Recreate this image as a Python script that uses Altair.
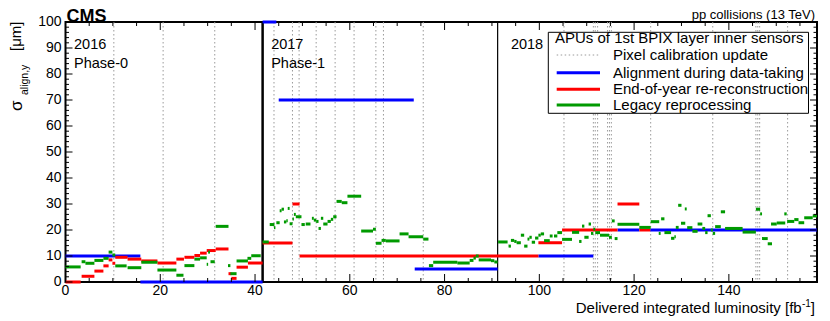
import altair as alt
import pandas as pd

FONT = "Liberation Sans"
X_MAX = 158.6

# ---------------- data (integrated luminosity in fb^-1, sigma in um) ----------------
blue_x0 = [0.0, 15.8, 41.6, 45.0, 73.7, 99.8, 116.5, 123.4]
blue_x1 = [15.8, 41.6, 44.5, 73.5, 91.2, 111.4, 121.1, 158.6]
blue_y = [10.0, 0.0, 100.0, 70.0, 5.0, 10.0, 20.0, 20.0]

red_x0 = [0.0, 3.4, 6.1, 8.0, 9.1, 9.9, 10.5, 13.1, 16.0, 19.4, 23.4, 25.1, 27.2, 28.4,
          29.8, 31.7, 34.4, 35.0, 36.1, 38.5, 41.6, 47.9, 49.4, 99.8, 104.8, 116.5, 121.1]
red_x1 = [3.2, 6.1, 8.0, 9.1, 9.9, 10.5, 13.1, 16.0, 19.4, 23.4, 25.0, 27.2, 28.4, 29.8,
          31.7, 34.4, 35.0, 36.1, 38.5, 41.6, 47.9, 49.4, 99.8, 104.8, 116.5, 121.1, 123.4]
red_y = [0.0, 2.2, 4.2, 6.2, 8.5, 7.2, 9.5, 8.8, 8.1, 7.3, 8.8, 9.5, 10.2, 11.1,
         12.1, 12.7, 3.2, 1.4, 5.7, 7.3, 15.0, 30.0, 10.0, 15.1, 20.0, 30.0, 20.0]

green_x0 = [
    # 2016
    0.0, 3.4, 4.2, 6.1, 8.0, 9.1, 9.9, 10.5, 13.1, 16.0, 19.4, 23.4, 25.1, 27.2, 28.4,
    29.8, 30.1, 30.6, 31.7, 34.3, 34.8, 36.1, 38.4, 39.2,
    # 2017
    41.6, 43.1, 44.0, 44.5, 45.2, 45.6, 46.1, 46.6, 46.9, 47.3, 47.9, 48.2, 48.6, 49.8,
    50.7, 52.0, 52.4, 52.9, 53.4, 53.9, 54.4, 55.3, 56.0, 56.5, 57.2, 58.3, 59.5, 62.4,
    64.9, 65.5, 66.7, 67.6, 70.5, 72.4, 75.5, 76.7, 77.6, 82.7, 85.3, 86.1, 86.6, 87.2,
    89.8, 90.5,
    # 2018
    91.3, 93.5, 94.0, 94.7, 95.2, 96.1, 96.8, 97.5, 97.9, 98.4, 99.1, 99.8, 100.3, 101.0,
    102.2, 103.1, 103.8, 104.8, 106.9, 108.4, 109.0, 109.5, 110.4, 110.9, 111.4, 111.8,
    112.8, 114.7, 115.3, 115.9, 116.5, 121.1, 123.5, 125.2, 125.7, 126.4, 127.8, 128.5,
    128.8, 129.3, 129.9, 130.7, 131.2, 132.3, 133.4, 134.4, 135.0, 135.5, 136.2, 136.6,
    137.1, 138.3, 139.2, 142.9, 145.7, 146.6, 147.0, 148.2, 148.9, 150.1, 151.7, 152.3,
    153.8, 154.7, 155.9, 157.7,
]
green_x1 = [
    3.2, 4.2, 6.1, 8.0, 9.1, 9.9, 10.5, 12.9, 16.0, 19.4, 23.4, 24.9, 27.2, 28.4, 29.8,
    30.1, 30.5, 31.5, 34.4, 34.8, 36.1, 38.5, 39.2, 41.2,
    42.9, 44.1, 44.3, 45.2, 45.6, 46.1, 46.6, 46.9, 47.3, 47.9, 48.2, 48.6, 49.8, 50.5,
    51.7, 52.4, 52.9, 53.4, 53.9, 54.4, 55.3, 56.0, 56.5, 57.2, 58.3, 59.5, 62.4, 64.9,
    65.5, 66.7, 67.6, 70.5, 72.4, 75.5, 76.6, 77.6, 82.7, 85.3, 86.1, 86.6, 87.2, 89.8,
    90.5, 91.2,
    93.3, 94.0, 94.7, 95.2, 96.1, 96.8, 97.5, 97.9, 98.4, 99.1, 99.8, 100.3, 101.0, 102.2,
    102.8, 103.8, 104.8, 106.9, 108.4, 108.9, 109.5, 110.4, 110.9, 111.4, 111.8, 112.8,
    114.7, 115.3, 115.9, 116.5, 121.1, 123.5, 125.3, 125.6, 126.4, 127.8, 128.5, 128.8,
    129.4, 130.0, 130.8, 131.1, 132.3, 133.4, 134.4, 135.0, 135.5, 136.2, 136.6, 137.1,
    138.3, 139.2, 142.9, 145.7, 146.6, 147.0, 148.2, 149.1, 150.1, 151.9, 152.2, 153.8,
    154.7, 155.9, 157.7, 158.6,
]
green_y = [
    5.8, 7.8, 7.2, 8.3, 9.1, 11.5, 10.4, 6.2, 5.5, 7.6, 4.6, 2.6, 6.3, 8.8, 9.3,
    6.8, 11.5, 7.8, 21.4, 6.3, 3.2, 8.1, 9.1, 10.1,
    15.4, 22.1, 20.9, 22.8, 27.4, 28.0, 23.1, 23.6, 28.3, 22.4, 24.2, 26.0, 25.1, 22.1,
    22.3, 24.5, 23.8, 23.3, 20.6, 24.5, 22.3, 23.3, 24.1, 25.1, 31.0, 30.5, 33.0, 19.6,
    20.3, 14.9, 16.0, 15.8, 18.5, 17.4, 16.5, 6.3, 7.6, 7.3, 8.3, 9.2, 10.0, 8.5,
    8.2, 7.7,
    15.4, 13.8, 16.0, 15.6, 15.1, 18.0, 13.8, 16.5, 17.2, 15.3, 16.9, 18.0, 18.5, 15.9,
    17.7, 17.7, 19.0, 16.4, 19.1, 15.6, 21.5, 17.2, 22.3, 18.7, 20.3, 19.0,
    18.0, 17.2, 23.5, 16.7, 22.2, 21.0, 23.2, 18.7, 24.3, 19.0, 16.8, 17.4,
    21.0, 29.5, 22.6, 28.1, 20.9, 19.5, 22.3, 20.6, 19.0, 25.5, 20.0, 18.7,
    21.3, 27.0, 20.6, 19.2, 28.0, 26.2, 16.7, 14.7, 22.3, 22.7, 26.2, 23.3,
    24.0, 22.8, 24.7, 25.4,
]

calib_x = [10.2, 20.6, 31.5, 44.0, 47.9, 49.3, 52.9, 56.9, 60.9, 65.5, 67.1, 75.5,
           105.2, 111.4, 111.8, 112.3, 114.4, 114.8, 115.2, 123.5, 136.6, 145.7,
           146.1, 146.5, 152.4]

year_bound_x = [41.6, 91.2]
year_bound_w = [2.5, 1.2]

year_text = ["2016", "Phase-0", "2017", "Phase-1", "2018"]
year_text_x = [1.8, 1.8, 43.4, 43.4, 94.0]
year_text_y = [91.0, 84.0, 91.0, 84.0, 91.0]

x_label_vals = [0, 20, 40, 60, 80, 100, 120, 140]
y_label_vals = [0, 10, 20, 30, 40, 50, 60, 70, 80, 90, 100]
x_minor = [v for v in range(0, 160, 5) if v % 20 != 0]
x_major = [v for v in range(0, 160, 20)]
y_minor = [v for v in range(0, 101, 2) if v % 10 != 0]
y_major = [v for v in range(0, 101, 10)]

legend_labels = ["Pixel calibration update", "Alignment during data-taking",
                 "End-of-year re-reconstruction", "Legacy reprocessing"]

BLUE = "#0000ff"
RED = "#ff0000"
GREEN = "#009a00"
GRAY = "#9a9a9a"

# ---------------- geometry ----------------
W = 751.5
H = 260

xs = alt.Scale(domain=[0, X_MAX], nice=False, zero=False)
ys = alt.Scale(domain=[0, 100], nice=False, zero=False)

one = pd.DataFrame({"a": [0]})


def seg_layer(x0, x1, y, color):
    df = pd.DataFrame({"x0": x0, "x1": x1, "y": y})
    return alt.Chart(df).mark_rule(color=color, strokeWidth=3, strokeCap="butt").encode(
        x=alt.X("x0:Q", scale=xs, axis=None),
        x2="x1:Q",
        y=alt.Y("y:Q", scale=ys, axis=None),
    )


layers = []

# calibration lines
layers.append(
    alt.Chart(pd.DataFrame({"x": calib_x})).mark_rule(
        color=GRAY, strokeWidth=1, strokeDash=[1.5, 2.5]
    ).encode(x=alt.X("x:Q", scale=xs, axis=None))
)
# year boundaries
layers.append(
    alt.Chart(pd.DataFrame({"x": year_bound_x, "w": year_bound_w})).mark_rule(color="black").encode(
        x=alt.X("x:Q", scale=xs, axis=None),
        strokeWidth=alt.StrokeWidth("w:Q", scale=None),
    )
)
# data segments
layers.append(seg_layer(blue_x0, blue_x1, blue_y, BLUE))
layers.append(seg_layer(red_x0, red_x1, red_y, RED))
layers.append(seg_layer(green_x0, green_x1, green_y, GREEN))

# year annotations
layers.append(
    alt.Chart(pd.DataFrame({"x": year_text_x, "y": year_text_y, "t": year_text})).mark_text(
        align="left", baseline="middle", font=FONT, fontSize=14.5, color="black"
    ).encode(x=alt.X("x:Q", scale=xs, axis=None), y=alt.Y("y:Q", scale=ys, axis=None), text="t:N")
)

# tick labels
layers.append(
    alt.Chart(pd.DataFrame({"v": x_label_vals})).mark_text(
        align="center", baseline="top", font=FONT, fontSize=14, color="black"
    ).encode(x=alt.X("v:Q", scale=xs, axis=None), y=alt.value(262), text="v:Q")
)
layers.append(
    alt.Chart(pd.DataFrame({"v": y_label_vals})).mark_text(
        align="right", baseline="middle", font=FONT, fontSize=14, color="black"
    ).encode(y=alt.Y("v:Q", scale=ys, axis=None), x=alt.value(-4), text="v:Q")
)


# ticks (ROOT style, inside, on all four sides)
def xticks(vals, length):
    d = pd.DataFrame({"v": vals})
    out = []
    for y0, y1 in [(H, H - length), (0, length)]:
        out.append(alt.Chart(d).mark_rule(color="black", strokeWidth=1).encode(
            x=alt.X("v:Q", scale=xs, axis=None), y=alt.value(y0), y2=alt.value(y1)))
    return out


def yticks(vals, length):
    d = pd.DataFrame({"v": vals})
    out = []
    for x0, x1 in [(0, length), (W, W - length)]:
        out.append(alt.Chart(d).mark_rule(color="black", strokeWidth=1).encode(
            y=alt.Y("v:Q", scale=ys, axis=None), x=alt.value(x0), x2=alt.value(x1)))
    return out


layers += xticks(x_minor, 4) + xticks(x_major, 8) + yticks(y_minor, 3.5) + yticks(y_major, 7)

# legend box
layers.append(
    alt.Chart(one).mark_rect(fill="white", stroke="black", strokeWidth=1).encode(
        x=alt.value(482.8), x2=alt.value(743), y=alt.value(10.3), y2=alt.value(91.3))
)
layers.append(
    alt.Chart(one).mark_text(text="APUs of 1st BPIX layer inner sensors", align="left",
                             baseline="middle", font=FONT, fontSize=15, color="black").encode(
        x=alt.value(489.5), y=alt.value(16.3))
)
leg_y = [33.0, 50.7, 67.3, 83.0]
leg_col = [GRAY, BLUE, RED, GREEN]
for i, lab in enumerate(legend_labels):
    if i == 0:
        mk = alt.Chart(one).mark_rule(color=GRAY, strokeWidth=1, strokeDash=[1.5, 2.5])
    else:
        mk = alt.Chart(one).mark_rule(color=leg_col[i], strokeWidth=3)
    layers.append(mk.encode(x=alt.value(491.2), x2=alt.value(534.5), y=alt.value(leg_y[i])))
    layers.append(
        alt.Chart(one).mark_text(text=lab, align="left", baseline="middle", font=FONT,
                                 fontSize=15, color="black").encode(
            x=alt.value(547.5), y=alt.value(leg_y[i]))
    )

# header texts
layers.append(alt.Chart(one).mark_text(text="CMS", align="left", baseline="alphabetic", font=FONT,
                                       fontSize=18, fontWeight="bold", color="black").encode(
    x=alt.value(1), y=alt.value(-0.5)))
layers.append(alt.Chart(one).mark_text(text="pp collisions (13 TeV)", align="right",
                                       baseline="alphabetic", font=FONT, fontSize=13,
                                       color="black").encode(
    x=alt.value(749.5), y=alt.value(-3.5)))

# y-axis title (rotated, with subscript)
layers.append(alt.Chart(one).mark_text(text="σ", angle=270, align="left", baseline="middle",
                                       font=FONT, fontSize=17, color="black").encode(
    x=alt.value(-49), y=alt.value(89)))
layers.append(alt.Chart(one).mark_text(text="align,y", angle=270, align="left", baseline="middle",
                                       font=FONT, fontSize=10.5, color="black").encode(
    x=alt.value(-40.5), y=alt.value(73)))
layers.append(alt.Chart(one).mark_text(text="[μm]", angle=270, align="left", baseline="middle",
                                       font=FONT, fontSize=15, color="black").encode(
    x=alt.value(-50), y=alt.value(29)))

# x-axis title with superscript
layers.append(alt.Chart(one).mark_text(text="Delivered integrated luminosity  [fb", align="right",
                                       baseline="alphabetic", font=FONT, fontSize=15,
                                       color="black").encode(
    x=alt.value(736.2), y=alt.value(291)))
layers.append(alt.Chart(one).mark_text(text="-1", align="right", baseline="alphabetic", font=FONT,
                                       fontSize=10, color="black").encode(
    x=alt.value(745.3), y=alt.value(285)))
layers.append(alt.Chart(one).mark_text(text="]", align="right", baseline="alphabetic", font=FONT,
                                       fontSize=15, color="black").encode(
    x=alt.value(749.5), y=alt.value(291)))

chart = alt.layer(*layers).properties(
    width=W,
    height=H,
    padding={"left": 57.5, "top": 14, "right": 5, "bottom": 36},
    autosize=alt.AutoSizeParams(type="none"),
    background="white",
).configure_view(stroke="black", strokeWidth=2)

chart.save("out.html", embed_options={"renderer": "svg", "actions": False})
